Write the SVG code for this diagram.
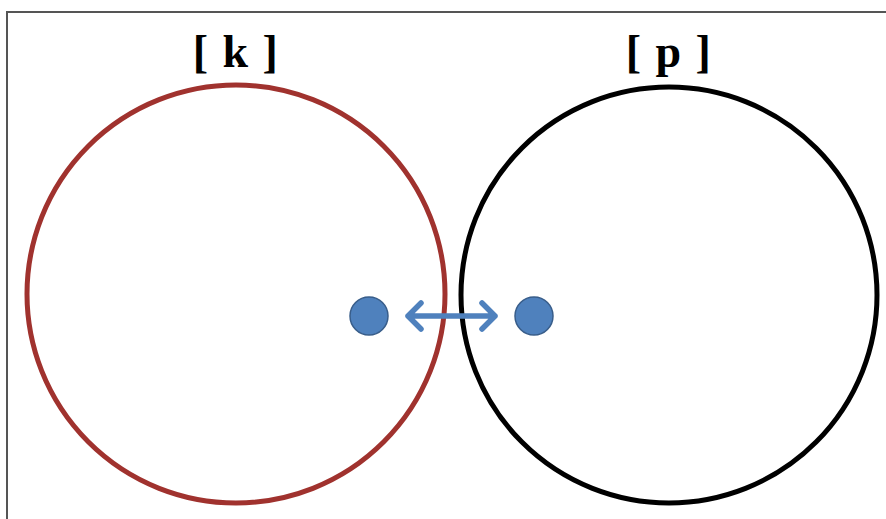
<svg xmlns="http://www.w3.org/2000/svg" width="886" height="519" viewBox="0 0 886 519">
<style>
.lbl{font-family:"Liberation Serif","DejaVu Serif",serif;font-size:46px;font-weight:bold;fill:#000;text-anchor:middle;letter-spacing:1.5px}
.ring{fill:none;stroke-width:5}
.dot{fill:#4F81BD;stroke:#385D8A;stroke-width:1.5}
.arr{fill:none;stroke:#4F81BD;stroke-width:5.5;stroke-linecap:round;stroke-linejoin:round}
</style>
<rect x="0" y="0" width="886" height="519" fill="#fff"/>
<path d="M7,519 V12 H886" fill="none" stroke="#555" stroke-width="2"/>
<g id="k">
<circle class="ring" cx="236" cy="294" r="209" stroke="#A0322E"/>
<text class="lbl" x="236" y="67">[ k ]</text>
<circle class="dot" cx="369" cy="316" r="19"/>
</g>
<g id="p">
<circle class="ring" cx="669" cy="295" r="208" stroke="#000"/>
<text class="lbl" x="669" y="67">[ p ]</text>
<circle class="dot" cx="534" cy="316" r="19"/>
</g>
<g id="connectors">
<path class="arr" d="M408,316 H495 M421,303 L408,316 L421,329 M482,303 L495,316 L482,329"/>
</g>
</svg>
